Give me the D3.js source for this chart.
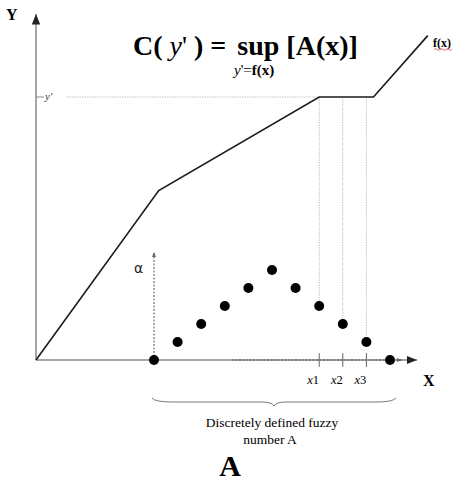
<!DOCTYPE html>
<html>
<head>
<meta charset="utf-8">
<script src="https://cdn.jsdelivr.net/npm/d3@7"></script>
<style>
  body { margin: 0; background: #fff; }
  svg { font-family: "Liberation Serif", "DejaVu Serif", serif; }
</style>
</head>
<body>
<script>
// mapping y' = f(x): piecewise linear breakpoints [x, y]
const fPoints = [[0, 0], [5.2, 5.8], [12, 9], [14.3, 9], [16.6, 11.1]];
const yPrime = 9;

// discretely defined fuzzy number A
const fuzzyX = [5, 6, 7, 8, 9, 10, 11, 12, 13, 14, 15];
const fuzzyAlpha = [0, 0.2, 0.4, 0.6, 0.8, 1, 0.8, 0.6, 0.4, 0.2, 0];

// points of A mapped onto y'
const preimageX = [12, 13, 14];
const preimageLabels = ['x1', 'x2', 'x3'];

const svg = d3.select('body')
  .append('svg')
  .attr('width', 457)
  .attr('height', 481);

const x = d3.scaleLinear()
  .domain([0, 16])
  .range([36, 413.6]);

const y = d3.scaleLinear()
  .domain([0, 9])
  .range([360, 97]);

const a = d3.scaleLinear()
  .domain([0, 1])
  .range([360, 270]);

const axisColour = '#888';
const guideColour = '#c4c4c4';

const defs = svg.append('defs');
defs.append('marker')
  .attr('id', 'arrow')
  .attr('viewBox', '0 0 10 10')
  .attr('refX', 10).attr('refY', 5)
  .attr('markerWidth', 7).attr('markerHeight', 7)
  .attr('orient', 'auto')
  .append('path')
  .attr('d', 'M0,1 L10,5 L0,9 Z')
  .attr('fill', '#222');
defs.append('marker')
  .attr('id', 'arrowSmall')
  .attr('viewBox', '0 0 10 10')
  .attr('refX', 10).attr('refY', 5)
  .attr('markerWidth', 5).attr('markerHeight', 5)
  .attr('orient', 'auto')
  .append('path')
  .attr('d', 'M0,1 L10,5 L0,9 Z')
  .attr('fill', '#666');

// guide lines: y' level and drops to x1..x3
svg.append('line')
  .attr('x1', 67).attr('y1', y(yPrime))
  .attr('x2', x(preimageX[0])).attr('y2', y(yPrime))
  .attr('stroke', guideColour)
  .attr('stroke-dasharray', '1.5 1')
  .attr('stroke-width', 1);

svg.selectAll('.drop')
  .data(preimageX)
  .enter()
    .append('line')
    .attr('class', 'drop')
    .attr('x1', d => x(d)).attr('y1', y(yPrime))
    .attr('x2', d => x(d)).attr('y2', (d) => a(fuzzyAlpha[fuzzyX.indexOf(d)]))
    .attr('stroke', guideColour)
    .attr('stroke-dasharray', '1.5 1')
    .attr('stroke-width', 1);

// axes
svg.append('line')
  .attr('x1', x(0)).attr('y1', y(0))
  .attr('x2', x(0)).attr('y2', 14)
  .attr('stroke', axisColour)
  .attr('stroke-width', 1.5)
  .attr('marker-end', 'url(#arrow)');

svg.append('line')
  .attr('x1', x(0)).attr('y1', y(0))
  .attr('x2', x(16.15)).attr('y2', y(0))
  .attr('stroke', axisColour)
  .attr('stroke-width', 1.5)
  .attr('marker-end', 'url(#arrow)');

// dotted overlay on the right part of the x axis
svg.append('line')
  .attr('x1', 232).attr('y1', y(0))
  .attr('x2', x(15.5)).attr('y2', y(0))
  .attr('stroke', '#555')
  .attr('stroke-dasharray', '2 1.5')
  .attr('stroke-width', 1)
  .attr('marker-end', 'url(#arrowSmall)');

// y' tick and label
svg.append('line')
  .attr('x1', x(0)).attr('y1', y(yPrime))
  .attr('x2', x(0) + 8).attr('y2', y(yPrime))
  .attr('stroke', axisColour)
  .attr('stroke-width', 1);

svg.append('text')
  .attr('x', 45).attr('y', y(yPrime) + 3)
  .attr('font-size', 11)
  .attr('font-style', 'italic')
  .attr('fill', '#333')
  .text('y\u2032');

// f(x)
const line = d3.line()
  .x(d => x(d[0]))
  .y(d => y(d[1]));

svg.append('path')
  .datum(fPoints)
  .attr('d', line)
  .attr('fill', 'none')
  .attr('stroke', '#1a1a1a')
  .attr('stroke-width', 1.6);

svg.append('text')
  .attr('x', 433).attr('y', 47)
  .attr('font-size', 12)
  .attr('font-weight', 'bold')
  .text('f(x)');

svg.append('path')
  .attr('d', 'M434,49.5 q1.5,-1.5 3,0 t3,0 t3,0 t3,0 t3,0 t3,0')
  .attr('fill', 'none')
  .attr('stroke', '#e03030')
  .attr('stroke-width', 0.7);

// alpha axis
svg.append('line')
  .attr('x1', x(fuzzyX[0])).attr('y1', a(0))
  .attr('x2', x(fuzzyX[0])).attr('y2', 252)
  .attr('stroke', '#555')
  .attr('stroke-dasharray', '2 1.5')
  .attr('stroke-width', 1)
  .attr('marker-end', 'url(#arrowSmall)');

svg.append('text')
  .attr('x', 134).attr('y', 273)
  .style('font-family', '"DejaVu Sans", sans-serif')
  .attr('font-size', 14)
  .attr('fill', '#222')
  .text('\u03b1');

// ticks at x1..x3
svg.selectAll('.tick')
  .data(preimageX)
  .enter()
    .append('line')
    .attr('class', 'tick')
    .attr('x1', d => x(d)).attr('y1', y(0) - 7)
    .attr('x2', d => x(d)).attr('y2', y(0) + 7)
    .attr('stroke', '#666')
    .attr('stroke-width', 1);

svg.selectAll('.tickLabel')
  .data(preimageX)
  .enter()
    .append('text')
    .attr('class', 'tickLabel')
    .attr('x', d => x(d) - 6)
    .attr('y', 384)
    .attr('font-size', 12.5)
    .attr('text-anchor', 'middle')
    .html((d, i) => `<tspan font-style="italic">x</tspan>${preimageLabels[i].slice(1)}`);

// fuzzy number dots
svg.selectAll('.dot')
  .data(fuzzyX)
  .enter()
    .append('circle')
    .attr('class', 'dot')
    .attr('cx', d => x(d))
    .attr('cy', (d, i) => a(fuzzyAlpha[i]))
    .attr('r', 5)
    .attr('fill', '#000');

// axis labels
svg.append('text')
  .attr('x', 6).attr('y', 20)
  .attr('font-size', 16)
  .attr('font-weight', 'bold')
  .text('Y');

svg.append('text')
  .attr('x', 423).attr('y', 386)
  .attr('font-size', 16)
  .attr('font-weight', 'bold')
  .text('X');

// brace under A
const bx0 = x(fuzzyX[0]) - 2;
const bx1 = x(fuzzyX[fuzzyX.length - 1]) + 6;
const bm = (bx0 + bx1) / 2;
svg.append('path')
  .attr('d', `M${bx0},398 Q${bx0 + 3},402 ${bx0 + 20},402 L${bm - 12},402 Q${bm - 2},402 ${bm},406 ` +
    `Q${bm + 2},402 ${bm + 12},402 L${bx1 - 20},402 Q${bx1 - 3},402 ${bx1},398`)
  .attr('fill', 'none')
  .attr('stroke', '#777')
  .attr('stroke-width', 1);

svg.append('text')
  .attr('x', 272).attr('y', 427)
  .attr('font-size', 13.5)
  .attr('text-anchor', 'middle')
  .text('Discretely defined fuzzy');

svg.append('text')
  .attr('x', 270).attr('y', 444)
  .attr('font-size', 13.5)
  .attr('text-anchor', 'middle')
  .text('number A');

svg.append('text')
  .attr('x', 230).attr('y', 476)
  .attr('font-size', 30)
  .attr('font-weight', 'bold')
  .attr('text-anchor', 'middle')
  .text('A');

// title formula
const title = svg.append('text')
  .attr('x', 133).attr('y', 55)
  .attr('font-size', 28)
  .attr('font-weight', 'bold')
  .attr('xml:space', 'preserve');
title.append('tspan').text('C( ');
title.append('tspan').attr('font-weight', 'normal').attr('font-style', 'italic').text('y');
title.append('tspan').attr('font-weight', 'normal').text('\'');
title.append('tspan').text(' ) = ');
title.append('tspan').attr('dx', 4).text('sup [A(x)]');

const sub = svg.append('text')
  .attr('x', 234).attr('y', 75)
  .attr('font-size', 15);
sub.append('tspan').attr('font-style', 'italic').text('y');
sub.append('tspan').text('\'=');
sub.append('tspan').attr('font-weight', 'bold').text('f(x)');
</script>
</body>
</html>
